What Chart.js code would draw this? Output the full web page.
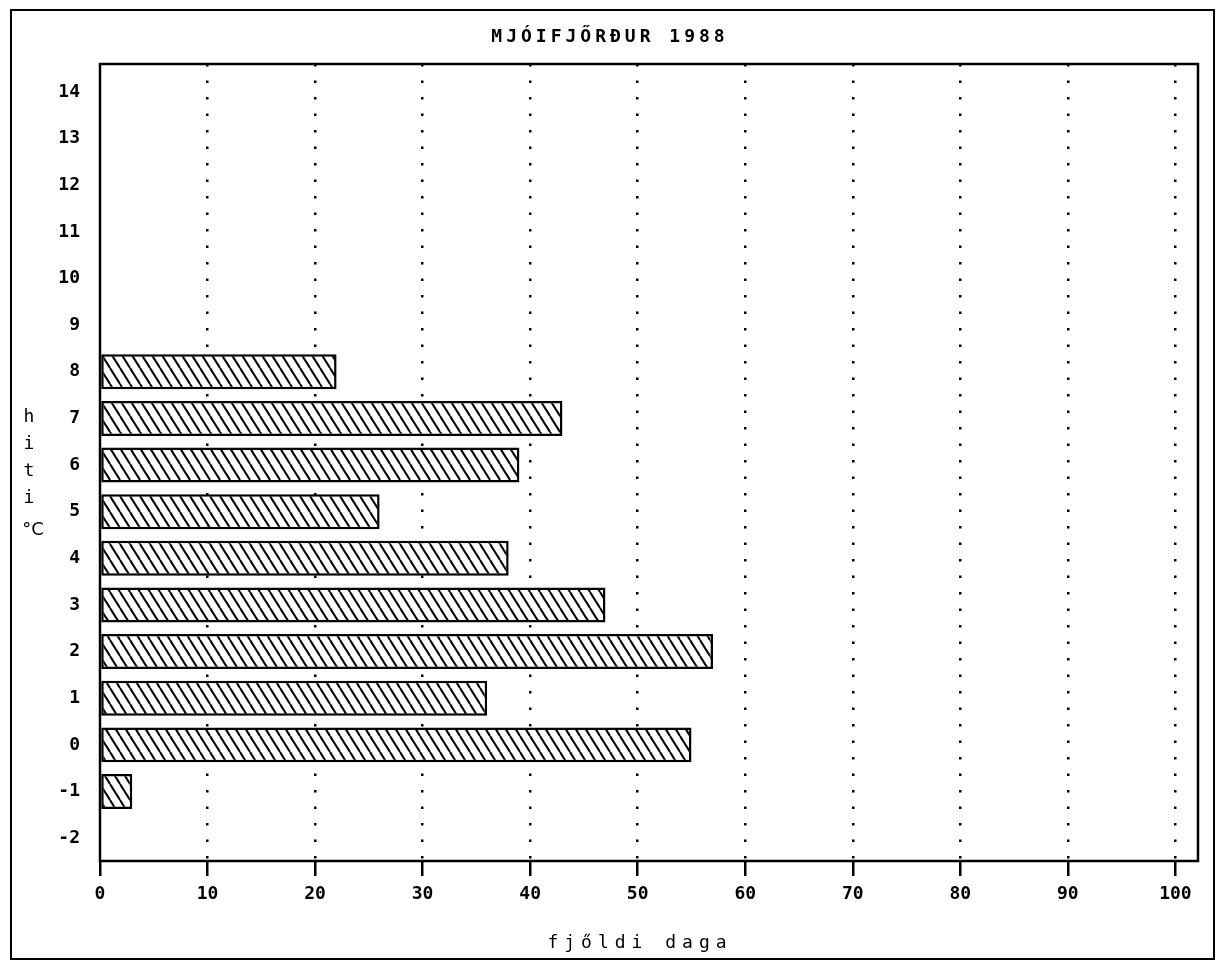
<!DOCTYPE html>
<html>
<head>
<meta charset="utf-8">
<script src="https://cdn.jsdelivr.net/npm/chart.js@4.4.0/dist/chart.umd.min.js"></script>
<style>
  html, body { margin: 0; padding: 0; background: #fff; }
  canvas { display: block; }
</style>
</head>
<body>
<canvas id="chartHiti" width="1217" height="962"></canvas>
<script>
// hiti (°C) og fjöldi daga
const temps = [-1, 0, 1, 2, 3, 4, 5, 6, 7, 8]
const days = [3, 55, 36, 57, 47, 38, 26, 39, 43, 22]

const chartTitle = "MJÓIFJŐRÐUR 1988"
const xTitle = "fjőldi daga"
const yTitle = ["h", "i", "t", "i", "°C"]

const monoFont = "'DejaVu Sans Mono', monospace"

// hatched fill: white background with "\" lines
function makeHatch() {
    const w = 10, h = 16
    const c = document.createElement("canvas")
    c.width = w
    c.height = h
    const g = c.getContext("2d")
    g.fillStyle = "#fff"
    g.fillRect(0, 0, w, h)
    g.strokeStyle = "#000"
    g.lineWidth = 2
    ;[-w, 0, w].forEach(dx => {
        g.beginPath()
        g.moveTo(dx, 0)
        g.lineTo(dx + w, h)
        g.stroke()
    })
    return g.createPattern(c, "repeat")
}

const framePlugin = {
    id: "frames",
    beforeDraw(chart) {
        const ctx = chart.ctx
        ctx.save()
        ctx.fillStyle = "#fff"
        ctx.fillRect(0, 0, chart.width, chart.height)
        ctx.restore()
    },
    afterDraw(chart) {
        const ctx = chart.ctx
        const a = chart.chartArea
        ctx.save()
        ctx.strokeStyle = "#000"
        // outer page frame
        ctx.lineWidth = 2
        ctx.strokeRect(11, 10, 1203, 949)
        // plot frame
        ctx.lineWidth = 2.5
        ctx.strokeRect(a.left, a.top, a.right - a.left, a.bottom - a.top)

        ctx.fillStyle = "#000"
        ctx.textAlign = "center"
        ctx.textBaseline = "middle"

        // title
        ctx.font = "bold 18px " + monoFont
        ctx.letterSpacing = "4px"
        ctx.fillText(chartTitle, 610, 37)

        // x axis title
        ctx.font = "18px " + monoFont
        ctx.letterSpacing = "6px"
        ctx.fillText(xTitle, 640, 943)

        // y axis title, stacked letters
        ctx.letterSpacing = "0px"
        const ys = [417, 444, 471, 498, 530]
        yTitle.forEach((t, i) => {
            ctx.font = (t === "°C" ? "18px 'DejaVu Sans', sans-serif" : "18px " + monoFont)
            ctx.fillText(t, t === "°C" ? 33 : 29, ys[i])
        })
        ctx.restore()
    }
}

new Chart(
    document.getElementById("chartHiti").getContext("2d"),
    {
        type: "bar",
        data: {
            datasets: [{
                label: "fjöldi daga",
                data: temps.map((t, i) => ({ x: days[i], y: t })),
                backgroundColor: makeHatch(),
                borderColor: "#000",
                borderWidth: 2.5,
                borderSkipped: false,
                categoryPercentage: 1,
                barPercentage: 0.75
            }]
        },
        options: {
            indexAxis: "y",
            responsive: false,
            animation: false,
            layout: {
                padding: { top: 64, right: 19, bottom: 0, left: 0 }
            },
            plugins: {
                legend: { display: false },
                title: { display: false },
                tooltip: { enabled: false }
            },
            scales: {
                x: {
                    type: "linear",
                    min: 0,
                    max: 102.1,
                    border: { display: false, dash: [2.5, 14] },
                    grid: {
                        color: ctx => ctx.tick && ctx.tick.value === 0 ? "rgba(0,0,0,0)" : "#000",
                        lineWidth: 2.5,
                        drawTicks: true,
                        tickLength: 15,
                        tickColor: "#000",
                        tickWidth: 2.5,
                        tickBorderDash: []
                    },
                    ticks: {
                        stepSize: 10,
                        includeBounds: false,
                        maxRotation: 0,
                        padding: 8,
                        color: "#000",
                        font: { family: monoFont, size: 18, weight: "bold" }
                    },
                    afterFit: scale => { scale.height = 101 }
                },
                y: {
                    type: "linear",
                    offset: false,
                    min: -2.49,
                    max: 14.6,
                    border: { display: false },
                    grid: { display: false, drawTicks: false },
                    ticks: {
                        stepSize: 1,
                        includeBounds: false,
                        padding: 20,
                        color: "#000",
                        font: { family: monoFont, size: 18, weight: "bold" }
                    },
                    afterFit: scale => { scale.width = 100 }
                }
            }
        },
        plugins: [framePlugin]
    }
)
</script>
</body>
</html>
